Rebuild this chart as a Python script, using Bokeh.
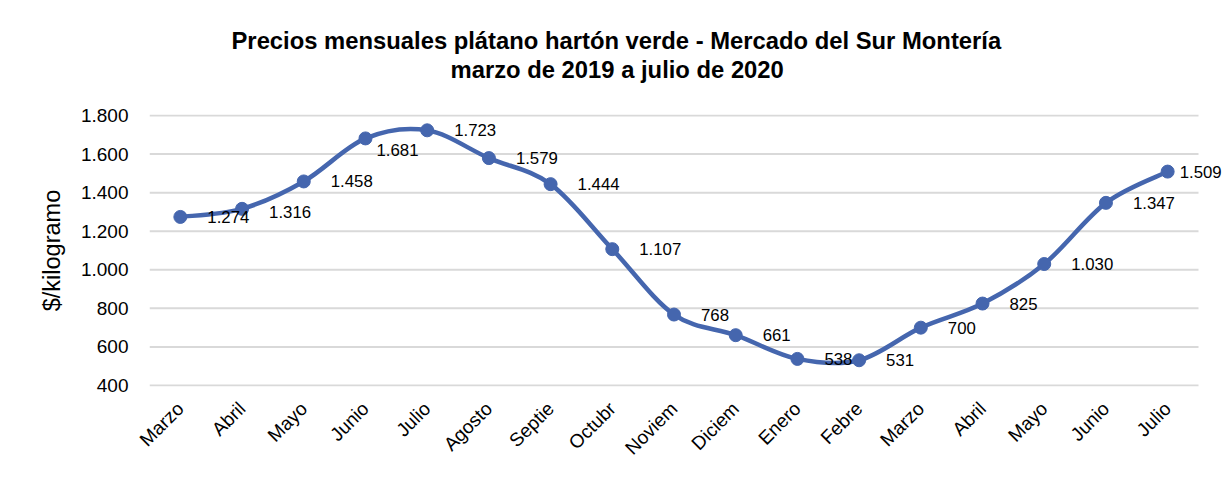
import math
from bokeh.plotting import figure
from bokeh.models import Range1d, FixedTicker, ColumnDataSource, LabelSet, Title
from bokeh.core.properties import value
from bokeh.embed import file_html
from bokeh.resources import INLINE

# ---- data ----
months = ["Marzo", "Abril", "Mayo", "Junio", "Julio", "Agosto", "Septie", "Octubr",
          "Noviem", "Diciem", "Enero", "Febre", "Marzo", "Abril", "Mayo", "Junio", "Julio"]
prices = [1274, 1316, 1458, 1681, 1723, 1579, 1444, 1107, 768, 661, 538, 531,
          700, 825, 1030, 1347, 1509]
y_ticks = [400, 600, 800, 1000, 1200, 1400, 1600, 1800]
title_1 = "Precios mensuales plátano hartón verde - Mercado del Sur Montería"
title_2 = "marzo de 2019 a julio de 2020"
y_label = "$/kilogramo"

# label offsets (pixels, right / down) – style only
label_dx = [27, 27, 27, 11, 27, 27, 27, 27, 27, 27, 27, 27, 27, 27, 27, 27, 12]
label_dy = [0, 3, 0, 12, 0, 0, 0, 0, 0, 0, 0, 0, 0, 0, 0, 0, 0]

BLUE = "#4566AE"
FONT = "Liberation Sans"

# layout (pixels)
W, H = 1224, 477
FR_L, FR_T, FR_B = 149, 114, 386
CAT_W = 1049 / 17          # pixel width of one category slot
Y0, Y1 = 395, 1805


def fmt(v):
    return f"{v:,}".replace(",", ".")


n = len(prices)
xs = [i + 0.5 for i in range(n)]

# Catmull-Rom style bezier smoothing (Excel-like smoothed line)
x0, y0, x1, y1, cx0, cy0, cx1, cy1 = [], [], [], [], [], [], [], []
for i in range(n - 1):
    xp, yp = (xs[i - 1], prices[i - 1]) if i > 0 else (xs[i], prices[i])
    xn2, yn2 = (xs[i + 2], prices[i + 2]) if i + 2 < n else (xs[i + 1], prices[i + 1])
    x0.append(xs[i]); y0.append(prices[i])
    x1.append(xs[i + 1]); y1.append(prices[i + 1])
    cx0.append(xs[i] + (xs[i + 1] - xp) / 6.0)
    cy0.append(prices[i] + (prices[i + 1] - yp) / 6.0)
    cx1.append(xs[i + 1] - (xn2 - xs[i]) / 6.0)
    cy1.append(prices[i + 1] - (yn2 - prices[i]) / 6.0)

# frame runs to the right canvas edge so the last data label is not clipped
x_end = (W - FR_L) / CAT_W
p = figure(width=W, height=H, x_range=Range1d(0, x_end), y_range=Range1d(Y0, Y1),
           output_backend="svg", toolbar_location=None, title=None,
           min_border_left=FR_L, min_border_right=0,
           min_border_top=FR_T, min_border_bottom=H - FR_B)
p.outline_line_color = None
p.background_fill_color = "white"
p.border_fill_color = "white"

# titles (stacked upward from the plot frame)
spacer = Title(text=" ", text_font_size="1px", standoff=28)
t2 = Title(text=title_2, align="left", offset=301, vertical_align="middle", standoff=0,
           text_font=FONT, text_font_style="bold", text_font_size="23.8px", text_color="black")
t1 = Title(text=title_1, align="left", offset=82, vertical_align="middle", standoff=0,
           text_font=FONT, text_font_style="bold", text_font_size="23.8px", text_color="black")
p.add_layout(spacer, "above")
p.add_layout(t2, "above")
p.add_layout(t1, "above")

# horizontal gridlines, spanning the category slots only
p.xgrid.grid_line_color = None
p.ygrid.grid_line_color = None
p.segment(x0=[0] * len(y_ticks), x1=[n] * len(y_ticks), y0=y_ticks, y1=y_ticks,
          line_color="#d9d9d9", line_width=2)

# y axis
p.yaxis.ticker = FixedTicker(ticks=y_ticks)
p.yaxis.major_label_overrides = {v: fmt(v) for v in y_ticks}
p.yaxis.axis_label = y_label
p.yaxis.axis_label_text_font = FONT
p.yaxis.axis_label_text_font_style = "normal"
p.yaxis.axis_label_text_font_size = "23.5px"
p.yaxis.axis_label_text_color = "black"
p.yaxis.axis_label_standoff = 13
p.yaxis.major_label_standoff = 21

# x axis
p.xaxis.ticker = FixedTicker(ticks=xs)
p.xaxis.major_label_overrides = {x: m for x, m in zip(xs, months)}
p.xaxis.major_label_orientation = math.pi / 4
p.xaxis.major_label_standoff = 19

for ax in (p.xaxis, p.yaxis):
    ax.axis_line_color = None
    ax.major_tick_line_color = None
    ax.minor_tick_line_color = None
    ax.major_tick_out = 0
    ax.major_tick_in = 0
    ax.minor_tick_out = 0
    ax.minor_tick_in = 0
    ax.major_label_text_font = FONT
    ax.major_label_text_font_size = "19px"
    ax.major_label_text_color = "black"

# smoothed line
p.bezier(x0=x0, y0=y0, x1=x1, y1=y1, cx0=cx0, cy0=cy0, cx1=cx1, cy1=cy1,
         line_color=BLUE, line_width=4.5, line_cap="round")

# markers
p.scatter(x=xs, y=prices, size=13, marker="circle", fill_color=BLUE, line_color=BLUE)

# data labels
src = ColumnDataSource(dict(x=xs, y=prices, t=[fmt(v) for v in prices],
                            dx=label_dx, dy=[-d for d in label_dy]))
p.add_layout(LabelSet(x="x", y="y", text="t", x_offset="dx", y_offset="dy", source=src,
                      text_align="left", text_baseline="middle", text_font=value(FONT),
                      text_font_size="16.8px", text_color="black"))

open("out.html", "w").write(file_html(p, INLINE))
